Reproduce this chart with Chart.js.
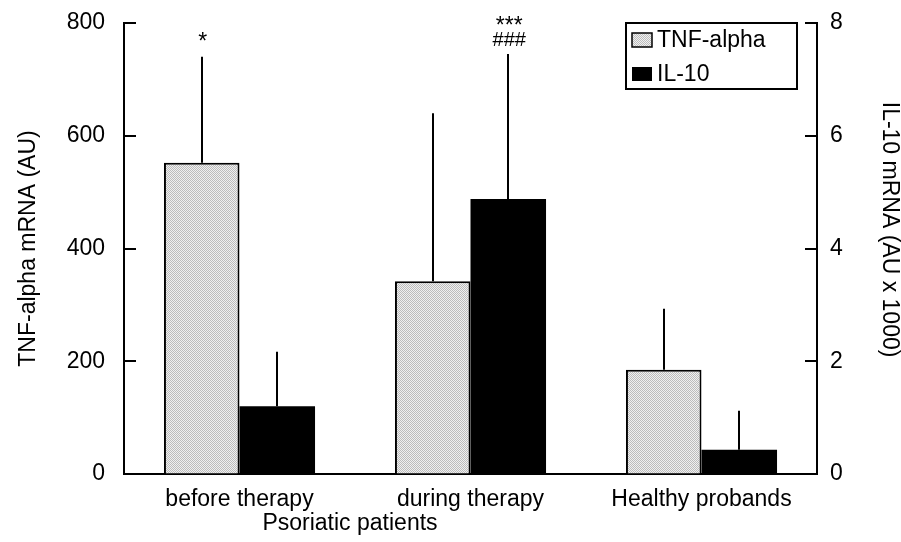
<!DOCTYPE html>
<html>
<head>
<meta charset="utf-8">
<script src="https://cdn.jsdelivr.net/npm/chart.js@4.4.0/dist/chart.umd.min.js"></script>
<style>
  html, body { margin: 0; padding: 0; background: #fff; }
  #wrap { width: 901px; height: 542px; position: relative; }
</style>
</head>
<body>
<div id="wrap"><canvas id="c" width="901" height="542"></canvas></div>
<script>
// ---- data ----
const categories = ['before therapy', 'during therapy', 'Healthy probands'];
const groupTitle = 'Psoriatic patients';
const tnfLabel = 'TNF-alpha';
const il10Label = 'IL-10';
const tnfValues = [552, 342, 185];
const tnfErrorTop = [740, 640, 293];
const il10Values = [1.2, 4.88, 0.43];
const il10ErrorTop = [2.17, 7.45, 1.12];
const leftTicks = [0, 200, 400, 600, 800];
const rightTicks = [0, 2, 4, 6, 8];
const leftTitle = 'TNF-alpha mRNA (AU)';
const rightTitle = 'IL-10 mRNA (AU x 1000)';
const annotations = [
  { dataset: 0, index: 0, lines: ['*'] },
  { dataset: 1, index: 1, lines: ['***', '###'] }
];

const FONT = "'Liberation Sans', Arial, Helvetica, sans-serif";

// stipple pattern for TNF bars
function makePattern() {
  const p = document.createElement('canvas');
  p.width = 2; p.height = 2;
  const g = p.getContext('2d');
  g.fillStyle = '#f0f0f0'; g.fillRect(0, 0, 2, 2);
  g.fillStyle = '#bcbcbc'; g.fillRect(0, 0, 1, 1); g.fillRect(1, 1, 1, 1);
  return document.getElementById('c').getContext('2d').createPattern(p, 'repeat');
}
const tnfFill = makePattern();

const overlay = {
  id: 'overlay',
  afterDatasetsDraw(chart) {
    const ctx = chart.ctx;
    const y = chart.scales.y, y1 = chart.scales.y1;
    const errs = [tnfErrorTop, il10ErrorTop];
    const scales = [y, y1];
    ctx.save();
    ctx.strokeStyle = '#000';
    ctx.lineWidth = 2;
    for (let d = 0; d < 2; d++) {
      const meta = chart.getDatasetMeta(d);
      meta.data.forEach((el, i) => {
        const top = scales[d].getPixelForValue(errs[d][i]);
        ctx.beginPath();
        ctx.moveTo(Math.round(el.x), el.y);
        ctx.lineTo(Math.round(el.x), top);
        ctx.stroke();
      });
    }
    // significance marks
    ctx.fillStyle = '#000';
    ctx.textAlign = 'center';
    ctx.textBaseline = 'alphabetic';
    annotations.forEach(a => {
      const el = chart.getDatasetMeta(a.dataset).data[a.index];
      const top = scales[a.dataset].getPixelForValue(errs[a.dataset][a.index]);
      let base = top - 8;
      for (let k = a.lines.length - 1; k >= 0; k--) {
        const t = a.lines[k];
        ctx.font = (t[0] === '#' ? '20px ' : '23px ') + FONT;
        ctx.fillText(t, el.x + 1, base);
        base -= 13;
      }
    });
    ctx.restore();
  },
  afterDraw(chart) {
    const ctx = chart.ctx;
    const ca = chart.chartArea;
    const y = chart.scales.y, y1 = chart.scales.y1, x = chart.scales.x;
    ctx.save();
    ctx.strokeStyle = '#000';
    ctx.lineWidth = 2;
    // inward tick marks
    leftTicks.forEach(v => {
      const py = Math.round(y.getPixelForValue(v));
      ctx.beginPath(); ctx.moveTo(ca.left, py); ctx.lineTo(ca.left + 12, py); ctx.stroke();
    });
    rightTicks.forEach(v => {
      const py = Math.round(y1.getPixelForValue(v));
      ctx.beginPath(); ctx.moveTo(ca.right, py); ctx.lineTo(ca.right - 12, py); ctx.stroke();
    });
    // group title under first two categories
    ctx.fillStyle = '#000';
    ctx.font = '23px ' + FONT;
    ctx.textAlign = 'center';
    ctx.textBaseline = 'alphabetic';
    const gx = (x.getPixelForValue(0) + x.getPixelForValue(1)) / 2 - 5;
    ctx.fillText(groupTitle, gx, ca.bottom + 56);
    // right axis title
    ctx.save();
    ctx.translate(883, ca.top + (ca.bottom - ca.top) * 0.458);
    ctx.rotate(Math.PI / 2);
    ctx.fillText(rightTitle, 0, 0);
    ctx.restore();
    // legend
    const lw = 171, lh = 66;
    const lx = ca.right - 20 - lw, ly = ca.top;
    ctx.lineWidth = 2;
    ctx.strokeRect(lx, ly, lw, lh);
    const items = [
      { label: chart.data.datasets[0].label, fill: tnfFill, border: true, cy: ly + 17 },
      { label: chart.data.datasets[1].label, fill: '#000', border: false, cy: ly + 51 }
    ];
    items.forEach(it => {
      ctx.fillStyle = it.fill;
      ctx.fillRect(lx + 6, it.cy - 7, 20, 14);
      if (it.border) {
        ctx.lineWidth = 1.5;
        ctx.strokeStyle = '#000';
        ctx.strokeRect(lx + 6, it.cy - 7, 20, 14);
      }
      ctx.fillStyle = '#000';
      ctx.textAlign = 'left';
      ctx.textBaseline = 'middle';
      ctx.fillText(it.label, lx + 31, it.cy + 1);
    });
    ctx.restore();
  }
};

const hiddenGrid = (len) => ({
  display: true, drawOnChartArea: false, drawTicks: true,
  tickLength: len, color: 'rgba(0,0,0,0)'
});

new Chart(document.getElementById('c'), {
  type: 'bar',
  data: {
    labels: categories,
    datasets: [
      {
        label: tnfLabel,
        data: tnfValues,
        yAxisID: 'y',
        backgroundColor: tnfFill,
        borderColor: '#000',
        borderWidth: 2,
        borderSkipped: 'bottom',
        categoryPercentage: 0.654,
        barPercentage: 1.0
      },
      {
        label: il10Label,
        data: il10Values,
        yAxisID: 'y1',
        backgroundColor: '#000',
        borderColor: '#000',
        borderWidth: 0,
        categoryPercentage: 0.654,
        barPercentage: 1.0
      }
    ]
  },
  options: {
    responsive: false,
    animation: false,
    devicePixelRatio: 1,
    layout: { padding: { top: 23, bottom: 0, left: 0, right: 0 } },
    plugins: { legend: { display: false }, tooltip: { enabled: false } },
    scales: {
      x: {
        position: 'bottom',
        grid: { display: false, drawTicks: false },
        border: { display: true, color: '#000', width: 2 },
        ticks: { color: '#000', font: { family: FONT, size: 23 }, padding: 12, maxRotation: 0 },
        afterFit(s) { s.height = 68; }
      },
      y: {
        position: 'left',
        min: 0, max: 800,
        afterBuildTicks(s) { s.ticks = leftTicks.map(v => ({ value: v })); },
        grid: hiddenGrid(19),
        border: { display: true, color: '#000', width: 2 },
        ticks: { color: '#000', font: { family: FONT, size: 23 }, padding: 0 },
        title: { display: true, text: leftTitle, color: '#000', font: { family: FONT, size: 23 }, padding: { top: 15, bottom: 0 } },
        afterFit(s) { s.width = 124; }
      },
      y1: {
        position: 'right',
        min: 0, max: 8,
        afterBuildTicks(s) { s.ticks = rightTicks.map(v => ({ value: v })); },
        grid: hiddenGrid(13),
        border: { display: true, color: '#000', width: 2 },
        ticks: { color: '#000', font: { family: FONT, size: 23 }, padding: 0 },
        afterFit(s) { s.width = 84; }
      }
    }
  },
  plugins: [overlay]
});
</script>
</body>
</html>
